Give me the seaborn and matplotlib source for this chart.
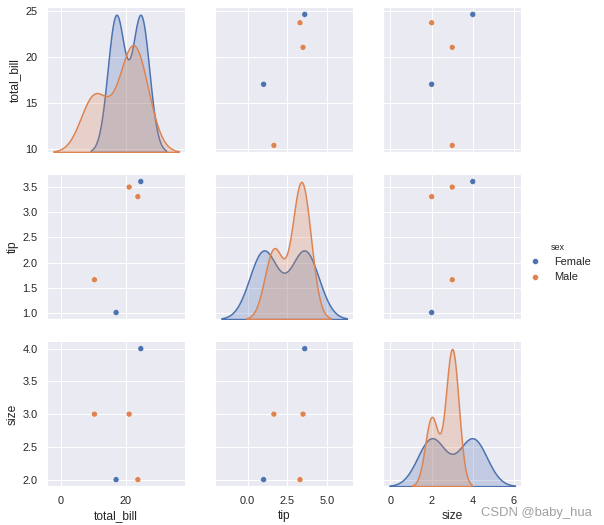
import matplotlib
matplotlib.use("Agg")
import matplotlib.pyplot as plt
import seaborn as sns
import numpy as np
import pandas as pd

# first five rows of the tips dataset
total_bill = [16.99, 10.34, 21.01, 23.68, 24.59]
tip = [1.01, 1.66, 3.50, 3.31, 3.61]
sex = ["Female", "Male", "Male", "Male", "Female"]
size = [2, 3, 3, 2, 4]

df = pd.DataFrame({"total_bill": total_bill, "tip": tip, "sex": sex, "size": size})


def old_kde(x, color=None, label=None, **kws):
    # old seaborn / statsmodels style bandwidth: 1.059 * min(std, IQR/1.349) * n^-1/5
    x = np.asarray(x, dtype=float)
    sd = np.std(x, ddof=1)
    iqr = (np.percentile(x, 75) - np.percentile(x, 25)) / 1.349
    bw = 1.059 * min(sd, iqr) * len(x) ** (-0.2)
    sns.kdeplot(x=x, bw_method=bw / sd, cut=3, fill=True, color=color,
                label=label, linewidth=1.5, alpha=0.25)


sns.set_theme()
plt.rcParams["font.family"] = ["Liberation Sans", "DejaVu Sans"]

g = sns.PairGrid(df, hue="sex", height=2.4, diag_sharey=False)
g.map_diag(old_kde)
g.map_offdiag(sns.scatterplot)
g.add_legend()
for ax in g.diag_axes:
    ax.set_ylabel("")

fig = g.figure
fig.set_size_inches(604 / 72, 525 / 72)
fig.subplots_adjust(left=0.078, right=0.863, bottom=0.074, top=0.985, wspace=0.217, hspace=0.16)
g._legend.set_bbox_to_anchor((0.995, 0.50))
g._legend.get_title().set_fontsize(9)

fig.text(0.98, 0.012, "CSDN @baby_hua", ha="right", va="bottom", fontsize=13, color="#a0a0a0")

fig.savefig("out.png", dpi=72)
